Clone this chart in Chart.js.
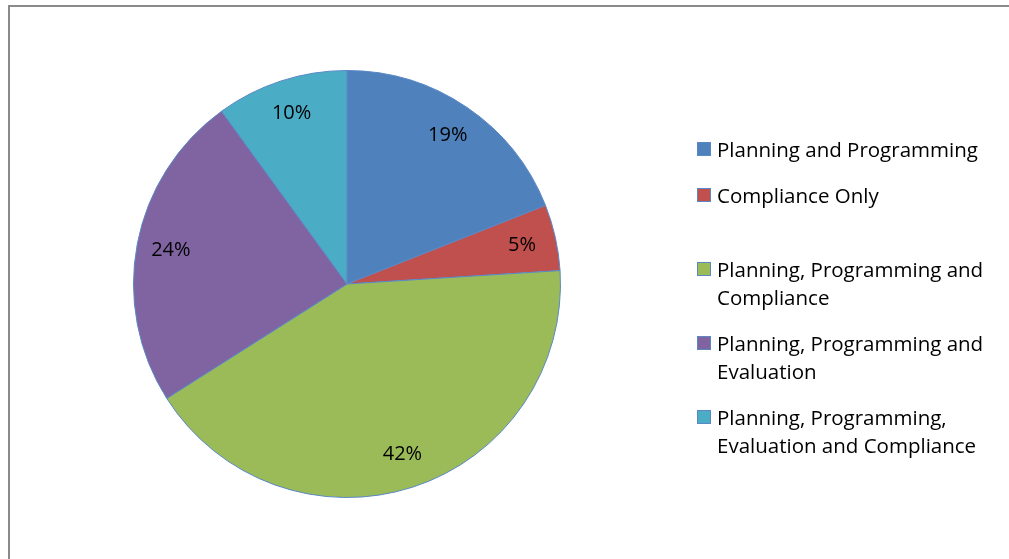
<!DOCTYPE html>
<html lang="en">
<head>
    <meta charset="UTF-8">
    <title>Pie Chart</title>
    <script src="https://cdn.jsdelivr.net/npm/chart.js"></script>
    <style>
        body {
            margin: 0;
            padding: 0;
            background: #fff;
            overflow: hidden;
            font-family: "Open Sans", Arial, sans-serif;
        }
        #frame {
            position: absolute;
            left: 8px;
            top: 5px;
            right: 0;
            bottom: 0;
            border-left: 2px solid #8a8a8a;
            border-top: 2px solid #8a8a8a;
        }
        #chart-box {
            position: absolute;
            left: 0;
            top: 0;
            width: 1009px;
            height: 559px;
        }
        #legend {
            position: absolute;
            left: 697px;
            top: 0;
            width: 312px;
        }
        .item {
            position: absolute;
            left: 0;
            display: flex;
            align-items: flex-start;
            font-size: 20.5px;
            line-height: 28px;
            color: #000;
            white-space: nowrap;
        }
        .swatch {
            width: 12px;
            height: 12px;
            border: 1px solid #5a88c6;
            margin-top: 7px;
            margin-right: 6px;
            flex: none;
        }
    </style>
</head>
<body>
    <div id="frame"></div>
    <div id="chart-box"><canvas id="pie" width="1009" height="559"></canvas></div>
    <div id="legend"></div>

    <script>
        // chart data
        const categories = [
            "Planning and Programming",
            "Compliance Only",
            "Planning, Programming and Compliance",
            "Planning, Programming and Evaluation",
            "Planning, Programming, Evaluation and Compliance"
        ];
        const legendLines = [
            ["Planning and Programming"],
            ["Compliance Only"],
            ["Planning, Programming and", "Compliance"],
            ["Planning, Programming and", "Evaluation"],
            ["Planning, Programming,", "Evaluation and Compliance"]
        ];
        const values = [19, 5, 42, 24, 10];
        const colors = ["#4F81BD", "#C0504D", "#9BBB59", "#8064A2", "#4BACC6"];

        // legend item tops (first line)
        const legendTops = [135, 181, 255, 329, 403];

        // percent labels drawn inside slices
        const pctLabels = {
            id: "pctLabels",
            afterDatasetsDraw(chart) {
                const ctx = chart.ctx;
                const meta = chart.getDatasetMeta(0);
                const total = values.reduce((a, b) => a + b, 0);
                ctx.save();
                ctx.font = '20px "Open Sans", Arial, sans-serif';
                ctx.fillStyle = "#000";
                ctx.textAlign = "center";
                ctx.textBaseline = "middle";
                meta.data.forEach((arc, i) => {
                    const p = arc.getProps(["x", "y", "startAngle", "endAngle", "outerRadius"], true);
                    const mid = (p.startAngle + p.endAngle) / 2;
                    const r = p.outerRadius * 0.84;
                    const pct = Math.round(values[i] / total * 100) + "%";
                    ctx.fillText(pct, p.x + Math.cos(mid) * r, p.y + Math.sin(mid) * r);
                });
                ctx.restore();
            }
        };

        new Chart(document.getElementById("pie").getContext("2d"), {
            type: "pie",
            data: {
                labels: categories,
                datasets: [{
                    data: values,
                    backgroundColor: colors,
                    borderColor: "#5a88c6",
                    borderWidth: 1
                }]
            },
            options: {
                responsive: false,
                animation: false,
                layout: {
                    padding: { left: 133, right: 448, top: 70, bottom: 61 }
                },
                plugins: {
                    legend: { display: false },
                    tooltip: { enabled: false }
                }
            },
            plugins: [pctLabels]
        });

        // html legend
        const legend = document.getElementById("legend");
        legendLines.forEach((lines, i) => {
            const item = document.createElement("div");
            item.className = "item";
            item.style.top = legendTops[i] + "px";
            const sw = document.createElement("span");
            sw.className = "swatch";
            sw.style.background = colors[i];
            const txt = document.createElement("span");
            txt.innerHTML = lines.join("<br>");
            item.appendChild(sw);
            item.appendChild(txt);
            legend.appendChild(item);
        });
    </script>
</body>
</html>
